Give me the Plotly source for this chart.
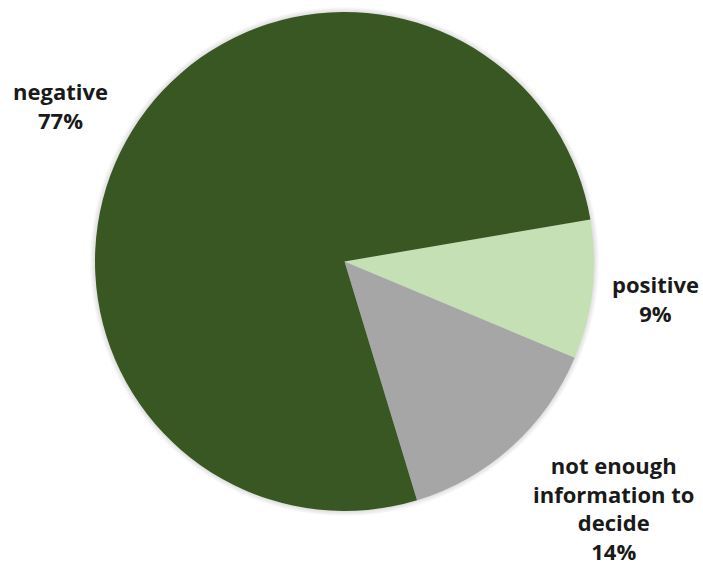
import plotly.graph_objects as go

# Survey outcome shares (percent)
categories = ["positive", "not enough information to decide", "negative"]
shares = [9, 14, 77]
colors = ["#C5E0B4", "#A6A6A6", "#385723"]

# Wrapped label text for each category
label_lines = {
    "negative": ["negative"],
    "positive": ["positive"],
    "not enough information to decide": ["not enough", "information to", "decide"],
}
# Label anchor points in paper coordinates
label_pos = {
    "negative": (0.086, 0.815),
    "positive": (0.933, 0.475),
    "not enough information to decide": (0.872, 0.108),
}

W, H = 703, 569
CX, CY, R = 344.5, 261.5, 249.5  # pie centre and radius in pixels

fig = go.Figure(
    go.Pie(
        labels=categories,
        values=shares,
        sort=False,
        direction="clockwise",
        rotation=80.3,
        marker=dict(colors=colors, line=dict(width=0)),
        textinfo="none",
        hoverinfo="label+percent",
        domain=dict(x=[(CX - R) / W, (CX + R) / W], y=[(H - CY - R) / H, (H - CY + R) / H]),
        showlegend=False,
    )
)

# Soft halo around the pie
for k in range(1, 6):
    r = R + k
    fig.add_shape(
        type="circle", xref="paper", yref="paper", layer="below",
        x0=(CX - r) / W, x1=(CX + r) / W,
        y0=(H - CY - r) / H, y1=(H - CY + r) / H,
        fillcolor="rgba(0,0,0,0.022)", line=dict(width=0),
    )

total = sum(shares)
for cat, val in zip(categories, shares):
    pct = round(100 * val / total)
    text = "<br>".join(label_lines[cat] + [f"{pct}%"])
    x, y = label_pos[cat]
    fig.add_annotation(
        x=x, y=y, xref="paper", yref="paper",
        text=text, showarrow=False,
        xanchor="center", yanchor="middle",
        font=dict(family="Open Sans", size=22, color="#1a1a1a", weight="bold"),
        align="center",
    )

fig.update_layout(
    width=W, height=H,
    margin=dict(l=0, r=0, t=0, b=0),
    paper_bgcolor="white",
    plot_bgcolor="white",
)

fig.write_html("out.html")
